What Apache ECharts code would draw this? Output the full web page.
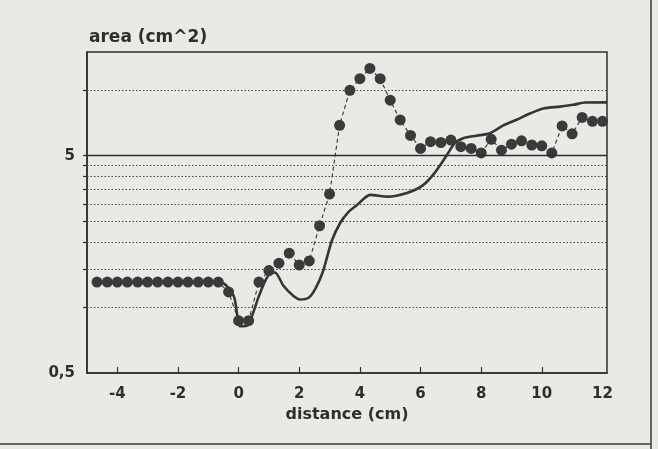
<!DOCTYPE html>
<html>
<head>
<meta charset="utf-8">
<script src="https://cdn.jsdelivr.net/npm/echarts@6/dist/echarts.min.js"></script>
<style>
html,body{margin:0;padding:0;background:#e9e9e6;}
#c{width:658px;height:449px;}
</style>
</head>
<body>
<div id="c"></div>
<script>
// distance (cm) of measured points
const distances = [-4.67,-4.33,-4,-3.67,-3.33,-3,-2.67,-2.33,-2,-1.67,-1.33,-1,-0.67,-0.33,0,0.33,0.67,1,1.33,1.67,2,2.33,2.67,3,3.33,3.67,4,4.33,4.67,5,5.33,5.67,6,6.33,6.67,7,7.33,7.67,8,8.33,8.67,9,9.33,9.67,10,10.33,10.67,11,11.33,11.67,12];
// area (cm^2) of measured points (dots, dashed line)
const areaDots = [1.31,1.31,1.31,1.31,1.31,1.31,1.31,1.31,1.31,1.31,1.31,1.31,1.31,1.18,0.87,0.87,1.31,1.48,1.60,1.78,1.57,1.64,2.38,3.33,6.9,10.0,11.3,12.6,11.3,9.0,7.3,6.2,5.4,5.8,5.75,5.9,5.5,5.4,5.15,5.95,5.3,5.65,5.85,5.6,5.55,5.15,6.85,6.3,7.5,7.2,7.2];
// solid curve
const curveX = [-4.67,-0.6,-0.16,0.05,0.3,0.66,0.88,1.05,1.2,1.48,1.81,2.03,2.31,2.53,2.77,3.08,3.35,3.62,3.9,4.34,4.93,5.55,6.04,6.42,6.81,7.14,7.41,7.85,8.29,8.73,9.17,9.61,10.05,10.6,11.04,11.42,12.15];
const curveY = [1.31,1.31,1.13,0.82,0.83,1.12,1.33,1.44,1.45,1.26,1.13,1.09,1.11,1.22,1.45,2.04,2.45,2.75,2.96,3.30,3.24,3.37,3.62,4.09,4.89,5.74,6.02,6.18,6.34,6.89,7.32,7.82,8.25,8.41,8.57,8.79,8.8];
// axis ticks / labels / grid lines
const xLabels = [-4,-2,0,2,4,6,8,10,12];
const xTicks = [-4,-2,0,2,4,6,8,10];
const yLabels = [0.5,5];
const yTicks = [1,1.5,2,2.5,3,3.5,4,4.5,5,10];
const gridDotted = [1,1.5,2,2.5,3,3.5,4,4.5,10];
const gridSolid = [5];

const ink = '#2e2e2e';
const font = 'DejaVu Sans';
const chart = echarts.init(document.getElementById('c'), null, {renderer:'canvas'});
chart.setOption({
  backgroundColor:'#e9e9e6',
  animation:false,
  title:{text:'area (cm^2)',left:84,top:24,textStyle:{color:ink,fontSize:17,fontWeight:'bold',fontFamily:font}},
  grid:{left:87,right:51,top:52,bottom:76,show:true,borderColor:ink,borderWidth:1.5,backgroundColor:'transparent'},
  xAxis:{
    type:'value',min:-5,max:12.15,
    name:'distance (cm)',nameLocation:'middle',nameGap:33,
    nameTextStyle:{color:ink,fontSize:16,fontWeight:'bold',fontFamily:font},
    axisLine:{show:true,onZero:false,lineStyle:{color:ink,width:1.5}},
    axisTick:{show:true,inside:true,length:6,customValues:xTicks,lineStyle:{color:ink,width:1.2}},
    axisLabel:{customValues:xLabels,color:ink,fontSize:15,fontWeight:'bold',fontFamily:font,margin:14,formatter:v=>String(v)},
    splitLine:{show:false}
  },
  yAxis:{
    type:'log',logBase:10,min:0.5,max:15,
    axisLine:{show:true,onZero:false,lineStyle:{color:ink,width:1.5}},
    axisTick:{show:true,length:4,customValues:yTicks,lineStyle:{color:ink,width:1.2}},
    axisLabel:{customValues:yLabels,color:ink,fontSize:15,fontWeight:'bold',fontFamily:font,margin:12,formatter:v=>String(v).replace('.',',')},
    splitLine:{show:false},minorSplitLine:{show:false}
  },
  series:[
    {
      type:'line',name:'curve',data:curveX.map((x,i)=>[x,curveY[i]]),
      showSymbol:false,symbol:'none',smooth:0.25,
      lineStyle:{color:'#353535',width:2.6},z:2,
      markLine:{silent:true,symbol:'none',label:{show:false},animation:false,
        data:[
          ...gridDotted.map(v=>({yAxis:v,lineStyle:{type:[1.5,2],color:'#444',width:1.1}})),
          ...gridSolid.map(v=>({yAxis:v,lineStyle:{type:'solid',color:ink,width:1.4}}))
        ]}
    },
    {
      type:'line',name:'dots',data:distances.map((x,i)=>[x,areaDots[i]]),
      symbol:'circle',symbolSize:11,
      itemStyle:{color:'#3a3a3a'},
      lineStyle:{color:'#333',width:1.1,type:[4,3]},z:3
    }
  ],
  graphic:[
    {type:'line',shape:{x1:651,y1:0,x2:651,y2:449},style:{stroke:'#3a3a3a',lineWidth:1.5}},
    {type:'line',shape:{x1:0,y1:444,x2:651,y2:444},style:{stroke:'#3a3a3a',lineWidth:1.5}}
  ]
});
</script>
</body>
</html>
